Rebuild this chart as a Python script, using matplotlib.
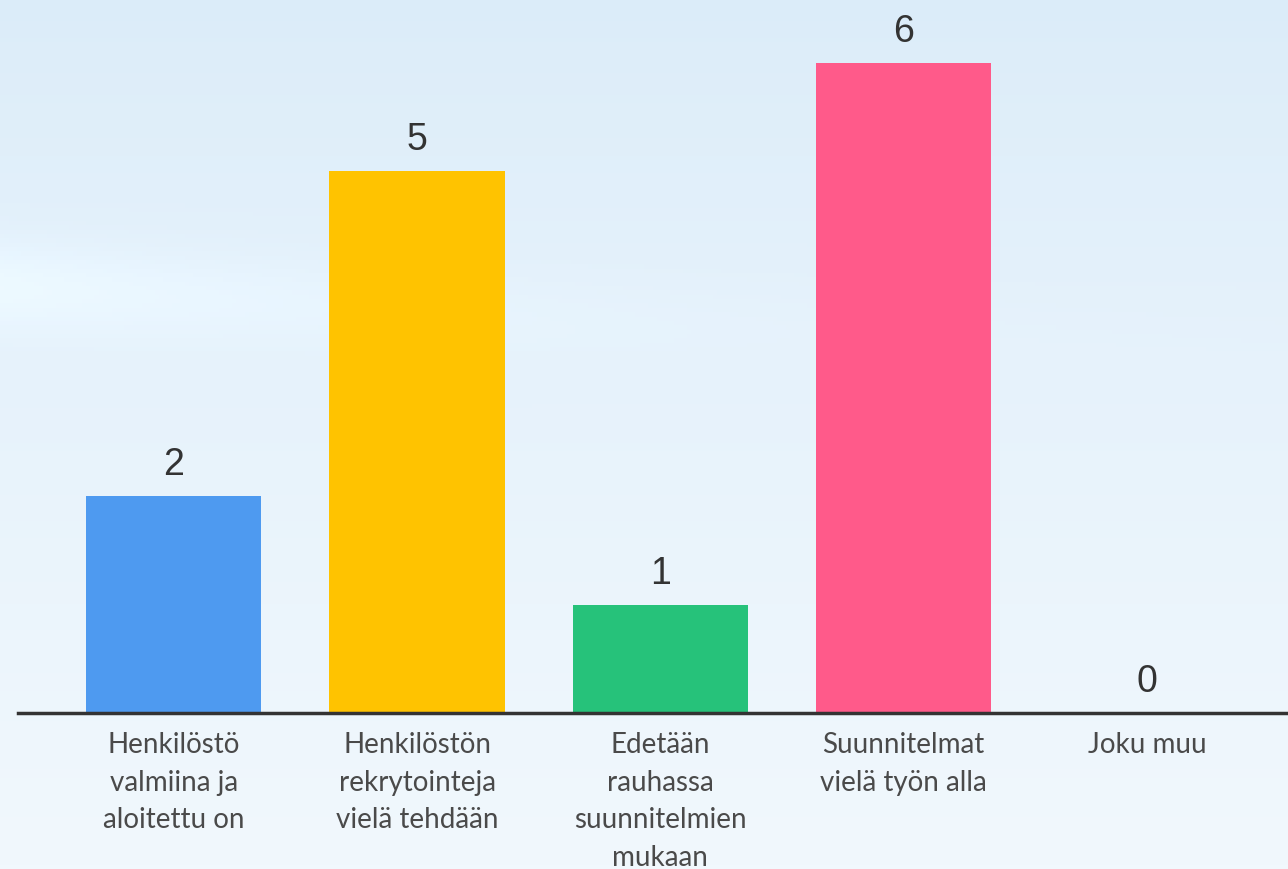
import numpy as np
import matplotlib
matplotlib.use('Agg')
import matplotlib.pyplot as plt

categories = ['Henkilöstö\nvalmiina ja\naloitettu on',
              'Henkilöstön\nrekrytointeja\nvielä tehdään',
              'Edetään\nrauhassa\nsuunnitelmien\nmukaan',
              'Suunnitelmat\nvielä työn alla',
              'Joku muu']
values = [2, 5, 1, 6, 0]
colors = ['#4e9af0', '#ffc300', '#26c27a', '#ff5a8a', '#9e9e9e']

fig = plt.figure(figsize=(12.88, 8.7), dpi=100)

# sky-like background
bg = fig.add_axes([0, 0, 1, 1], zorder=0)
h, w = 200, 300
yy = np.linspace(0, 1, h)[:, None]
xx = np.linspace(0, 1, w)[None, :]
top = np.array([219, 236, 249]) / 255
bot = np.array([241, 248, 253]) / 255
img = top + (bot - top) * (yy ** 0.8)[..., None] * np.ones((1, w, 1))
streak = 0.035 * np.exp(-((yy - 0.33 - 0.08 * xx) / 0.05) ** 2) * np.exp(-xx / 0.3)
img = np.clip(img + streak[..., None], 0, 1)
bg.imshow(img, aspect='auto', extent=[0, 1, 0, 1])
bg.axis('off')

ax = fig.add_axes([18 / 1288, 156 / 870, 1270 / 1288, 714 / 870], zorder=1)
ax.patch.set_alpha(0)
x = np.arange(len(values))
ax.bar(x, values, width=0.72, color=colors)
ax.set_xlim(-0.64, 4.58)
ax.set_ylim(0, 6.59)

for xi, v in zip(x, values):
    ax.annotate(str(v), (xi, v), xytext=(0, 10), textcoords='offset points',
                ha='center', va='bottom', fontsize=27, color='#333333',
                family='Liberation Sans')

ax.set_xticks(x)
ax.set_xticklabels(categories, fontsize=20, color='#4a4a4a', family='Lato',
                   linespacing=1.55, va='top')
ax.tick_params(axis='x', length=0, pad=13)
ax.set_yticks([])
for s in ['top', 'right', 'left']:
    ax.spines[s].set_visible(False)
ax.spines['bottom'].set_color('#333333')
ax.spines['bottom'].set_linewidth(2.5)

fig.savefig('out.png', dpi=100)
